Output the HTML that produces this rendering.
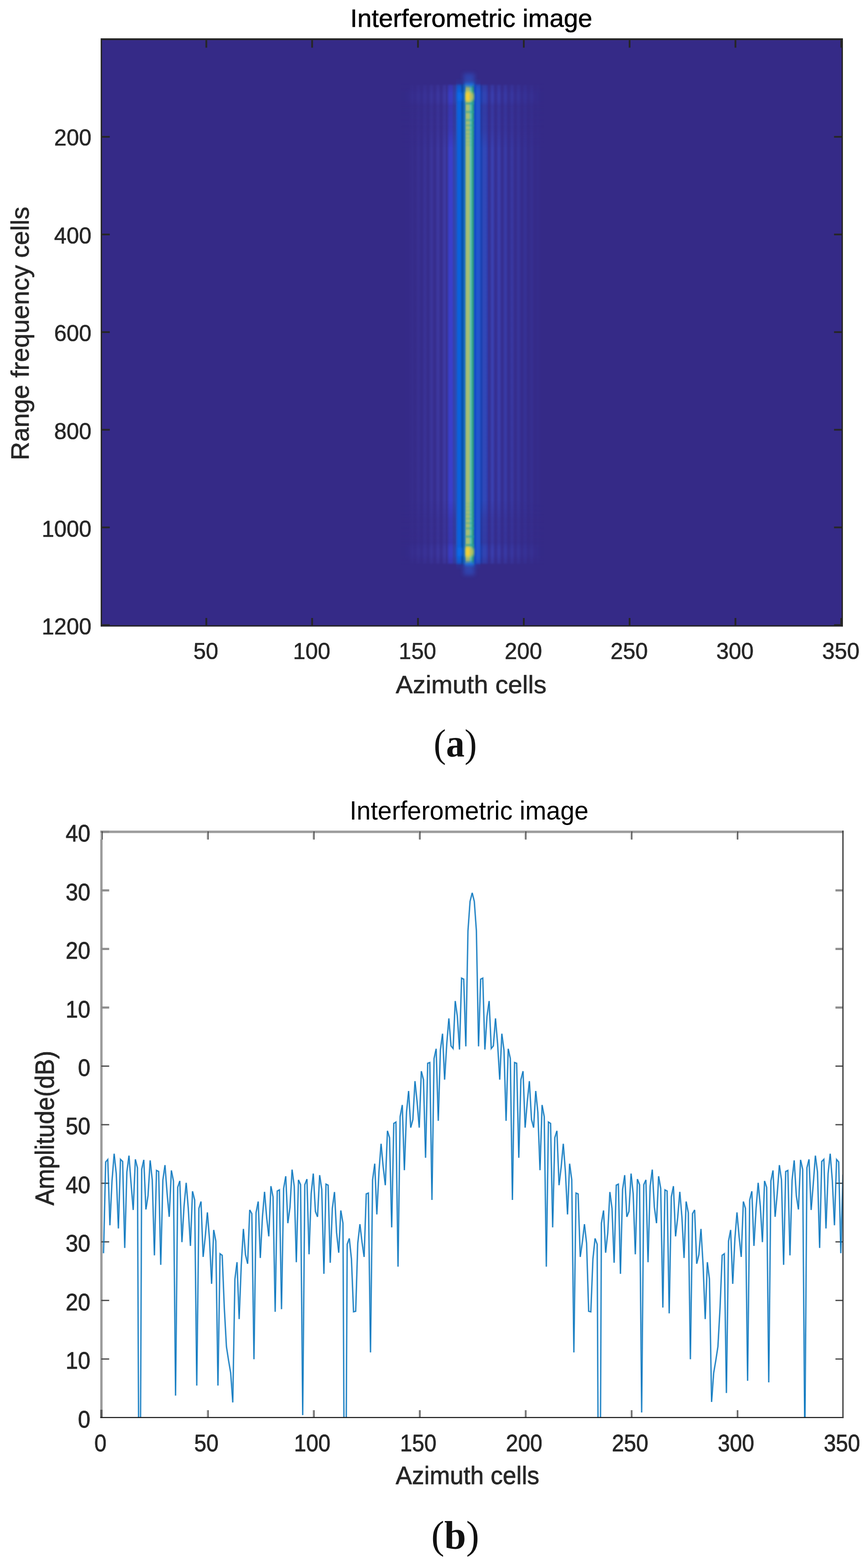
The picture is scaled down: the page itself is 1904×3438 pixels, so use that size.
<!DOCTYPE html>
<html lang="en"><head><meta charset="utf-8"><title>Interferometric image</title>
<style>
html,body{margin:0;padding:0;background:#fff;}
body{width:1904px;height:3438px;overflow:hidden;}
svg{display:block;}
text{font-family:"Liberation Sans",sans-serif;fill:#262626;stroke:#262626;stroke-width:0.7px;stroke-linejoin:round;}
.ttl{font-size:56.2px;fill:#000;stroke:#000;}
.lbl{font-size:56.2px;}
.tk{font-size:49.1px;}
.b text{stroke-width:0.9px;}
.b text.ttl{stroke-width:0;}
.cap{font-family:"Liberation Serif",serif;fill:#111;stroke:none;}
</style></head><body>
<svg width="1904" height="3438" viewBox="0 0 1904 3438">
<defs>
<linearGradient id="prof" gradientUnits="userSpaceOnUse" x1="880" y1="0" x2="1194" y2="0">
<stop offset="0.0000" stop-color="#352a87"/>
<stop offset="0.0076" stop-color="#352a87"/>
<stop offset="0.0153" stop-color="#352a87"/>
<stop offset="0.0229" stop-color="#352a87"/>
<stop offset="0.0306" stop-color="#352a88"/>
<stop offset="0.0382" stop-color="#352a88"/>
<stop offset="0.0459" stop-color="#352a88"/>
<stop offset="0.0535" stop-color="#352a88"/>
<stop offset="0.0611" stop-color="#362b89"/>
<stop offset="0.0688" stop-color="#362c8b"/>
<stop offset="0.0764" stop-color="#372d8c"/>
<stop offset="0.0841" stop-color="#362c8b"/>
<stop offset="0.0917" stop-color="#362b89"/>
<stop offset="0.0994" stop-color="#362b89"/>
<stop offset="0.1070" stop-color="#372d8c"/>
<stop offset="0.1146" stop-color="#382f8f"/>
<stop offset="0.1223" stop-color="#382f91"/>
<stop offset="0.1299" stop-color="#372e8e"/>
<stop offset="0.1376" stop-color="#362c8b"/>
<stop offset="0.1452" stop-color="#362c8a"/>
<stop offset="0.1529" stop-color="#372e8f"/>
<stop offset="0.1605" stop-color="#393194"/>
<stop offset="0.1682" stop-color="#393295"/>
<stop offset="0.1758" stop-color="#383091"/>
<stop offset="0.1834" stop-color="#372d8c"/>
<stop offset="0.1911" stop-color="#362d8c"/>
<stop offset="0.1987" stop-color="#383091"/>
<stop offset="0.2064" stop-color="#3a3498"/>
<stop offset="0.2140" stop-color="#3b349a"/>
<stop offset="0.2217" stop-color="#393194"/>
<stop offset="0.2293" stop-color="#372e8d"/>
<stop offset="0.2369" stop-color="#372d8d"/>
<stop offset="0.2446" stop-color="#393194"/>
<stop offset="0.2522" stop-color="#3c369d"/>
<stop offset="0.2599" stop-color="#3c379e"/>
<stop offset="0.2675" stop-color="#3a3397"/>
<stop offset="0.2752" stop-color="#372e8f"/>
<stop offset="0.2828" stop-color="#372e8e"/>
<stop offset="0.2904" stop-color="#3a3397"/>
<stop offset="0.2981" stop-color="#3d39a1"/>
<stop offset="0.3057" stop-color="#3d3aa3"/>
<stop offset="0.3134" stop-color="#3b359a"/>
<stop offset="0.3210" stop-color="#382f90"/>
<stop offset="0.3236" stop-color="#3638a6"/>
<stop offset="0.3384" stop-color="#3a3ecb"/>
<stop offset="0.3532" stop-color="#3a3ecb"/>
<stop offset="0.3679" stop-color="#3442a8"/>
<stop offset="0.3827" stop-color="#2a4cb4"/>
<stop offset="0.3975" stop-color="#0a62dc"/>
<stop offset="0.4123" stop-color="#0a62dc"/>
<stop offset="0.4271" stop-color="#0650a8"/>
<stop offset="0.4419" stop-color="#1a6cc0"/>
<stop offset="0.4567" stop-color="#a3bd76"/>
<stop offset="0.4715" stop-color="#a8bf72"/>
<stop offset="0.4862" stop-color="#5cc0b0"/>
<stop offset="0.5010" stop-color="#2f9a80"/>
<stop offset="0.5158" stop-color="#1048c8"/>
<stop offset="0.5306" stop-color="#2255ce"/>
<stop offset="0.5454" stop-color="#2454cc"/>
<stop offset="0.5602" stop-color="#1a40b0"/>
<stop offset="0.5750" stop-color="#3048b8"/>
<stop offset="0.5897" stop-color="#3048b8"/>
<stop offset="0.6045" stop-color="#3038a8"/>
<stop offset="0.6083" stop-color="#363296"/>
<stop offset="0.6159" stop-color="#363092"/>
<stop offset="0.6236" stop-color="#37369d"/>
<stop offset="0.6312" stop-color="#393eac"/>
<stop offset="0.6389" stop-color="#3940b0"/>
<stop offset="0.6465" stop-color="#3839a4"/>
<stop offset="0.6541" stop-color="#363195"/>
<stop offset="0.6618" stop-color="#362f91"/>
<stop offset="0.6694" stop-color="#37349b"/>
<stop offset="0.6771" stop-color="#383ba8"/>
<stop offset="0.6847" stop-color="#393dab"/>
<stop offset="0.6924" stop-color="#3837a0"/>
<stop offset="0.7000" stop-color="#363093"/>
<stop offset="0.7076" stop-color="#362e8f"/>
<stop offset="0.7153" stop-color="#373398"/>
<stop offset="0.7229" stop-color="#3839a3"/>
<stop offset="0.7306" stop-color="#383aa5"/>
<stop offset="0.7382" stop-color="#37359c"/>
<stop offset="0.7459" stop-color="#362f91"/>
<stop offset="0.7535" stop-color="#362e8e"/>
<stop offset="0.7611" stop-color="#363195"/>
<stop offset="0.7688" stop-color="#37369e"/>
<stop offset="0.7764" stop-color="#3837a0"/>
<stop offset="0.7841" stop-color="#373398"/>
<stop offset="0.7917" stop-color="#362e8f"/>
<stop offset="0.7994" stop-color="#362d8d"/>
<stop offset="0.8070" stop-color="#363092"/>
<stop offset="0.8146" stop-color="#373499"/>
<stop offset="0.8223" stop-color="#37349a"/>
<stop offset="0.8299" stop-color="#363194"/>
<stop offset="0.8376" stop-color="#362d8d"/>
<stop offset="0.8452" stop-color="#352c8b"/>
<stop offset="0.8529" stop-color="#362e8f"/>
<stop offset="0.8605" stop-color="#363194"/>
<stop offset="0.8682" stop-color="#363195"/>
<stop offset="0.8758" stop-color="#362f91"/>
<stop offset="0.8834" stop-color="#352c8b"/>
<stop offset="0.8911" stop-color="#352c8a"/>
<stop offset="0.8987" stop-color="#362d8c"/>
<stop offset="0.9064" stop-color="#362f90"/>
<stop offset="0.9140" stop-color="#362f90"/>
<stop offset="0.9217" stop-color="#362d8d"/>
<stop offset="0.9293" stop-color="#352b89"/>
<stop offset="0.9369" stop-color="#352b89"/>
<stop offset="0.9446" stop-color="#352b8a"/>
<stop offset="0.9522" stop-color="#352c8b"/>
<stop offset="0.9599" stop-color="#352c8a"/>
<stop offset="0.9675" stop-color="#352b89"/>
<stop offset="0.9752" stop-color="#352a88"/>
<stop offset="0.9828" stop-color="#352a87"/>
<stop offset="0.9904" stop-color="#352a87"/>
<stop offset="1.0000" stop-color="#352a87"/>
</linearGradient>
<linearGradient id="vfade" gradientUnits="userSpaceOnUse" x1="0" y1="170" x2="0" y2="1252">
<stop offset="0.0000" stop-color="#fff" stop-opacity="0"/>
<stop offset="0.0111" stop-color="#fff" stop-opacity="0.12"/>
<stop offset="0.0203" stop-color="#fff" stop-opacity="0.6"/>
<stop offset="0.0296" stop-color="#fff" stop-opacity="1"/>
<stop offset="0.9704" stop-color="#fff" stop-opacity="1"/>
<stop offset="0.9797" stop-color="#fff" stop-opacity="0.6"/>
<stop offset="0.9889" stop-color="#fff" stop-opacity="0.12"/>
<stop offset="1.0000" stop-color="#fff" stop-opacity="0"/>
</linearGradient>
<mask id="vm" maskUnits="userSpaceOnUse" x="860" y="160" width="360" height="1110"><rect x="860" y="160" width="360" height="1110" fill="url(#vfade)"/></mask>
<linearGradient id="vofade" gradientUnits="userSpaceOnUse" x1="0" y1="170" x2="0" y2="1252">
<stop offset="0.0000" stop-color="#fff" stop-opacity="0"/>
<stop offset="0.0120" stop-color="#fff" stop-opacity="0"/>
<stop offset="0.0176" stop-color="#fff" stop-opacity="0.6"/>
<stop offset="0.0305" stop-color="#fff" stop-opacity="0.8"/>
<stop offset="0.0481" stop-color="#fff" stop-opacity="0.8"/>
<stop offset="0.0582" stop-color="#fff" stop-opacity="0.58"/>
<stop offset="0.1063" stop-color="#fff" stop-opacity="0.66"/>
<stop offset="0.1433" stop-color="#fff" stop-opacity="1"/>
<stop offset="0.8567" stop-color="#fff" stop-opacity="1"/>
<stop offset="0.8937" stop-color="#fff" stop-opacity="0.66"/>
<stop offset="0.9418" stop-color="#fff" stop-opacity="0.58"/>
<stop offset="0.9519" stop-color="#fff" stop-opacity="0.8"/>
<stop offset="0.9695" stop-color="#fff" stop-opacity="0.8"/>
<stop offset="0.9824" stop-color="#fff" stop-opacity="0.6"/>
<stop offset="0.9880" stop-color="#fff" stop-opacity="0"/>
<stop offset="1.0000" stop-color="#fff" stop-opacity="0"/>
</linearGradient>
<mask id="vo" maskUnits="userSpaceOnUse" x="860" y="160" width="360" height="1110"><rect x="860" y="160" width="360" height="1110" fill="url(#vofade)"/></mask>
<filter id="b2" x="-50%" y="-50%" width="200%" height="200%"><feGaussianBlur stdDeviation="1.6"/></filter>
<filter id="b3" x="-50%" y="-50%" width="200%" height="200%"><feGaussianBlur stdDeviation="3"/></filter>
<filter id="b6" x="-50%" y="-50%" width="200%" height="200%"><feGaussianBlur stdDeviation="5"/></filter>
<filter id="lb" filterUnits="userSpaceOnUse" x="200" y="1800" width="1680" height="1340"><feGaussianBlur stdDeviation="0.55"/></filter>
<clipPath id="cb"><rect x="222" y="1824" width="1628" height="1284"/></clipPath>
</defs>
<rect x="0" y="0" width="1904" height="3438" fill="#ffffff"/>
<g id="plot-a">
<rect x="221" y="84" width="1628" height="1289.6" fill="#352a87"/>
<rect x="895" y="201" width="285" height="22" fill="#3d42b8" opacity="0.4" filter="url(#b6)"/>
<rect x="895" y="1199" width="285" height="22" fill="#3d42b8" opacity="0.4" filter="url(#b6)"/>
<rect x="880" y="160" width="314" height="1110" fill="url(#prof)" mask="url(#vo)"/>
<rect x="1000" y="160" width="54" height="1110" fill="url(#prof)" mask="url(#vm)"/>
<rect x="1021" y="223.9" width="19" height="5.2" fill="#1f9aa6" opacity="0.6" filter="url(#b2)"/>
<rect x="1021" y="242.9" width="19" height="5.2" fill="#1f9aa6" opacity="0.45" filter="url(#b2)"/>
<rect x="1021" y="260.9" width="19" height="5.2" fill="#1f9aa6" opacity="0.36" filter="url(#b2)"/>
<rect x="1021" y="272.4" width="19" height="5.2" fill="#1f9aa6" opacity="0.28" filter="url(#b2)"/>
<rect x="1021" y="282.4" width="19" height="5.2" fill="#1f9aa6" opacity="0.22" filter="url(#b2)"/>
<rect x="1021" y="291.4" width="19" height="5.2" fill="#1f9aa6" opacity="0.17" filter="url(#b2)"/>
<rect x="1021" y="299.9" width="19" height="5.2" fill="#1f9aa6" opacity="0.13" filter="url(#b2)"/>
<rect x="1021" y="307.9" width="19" height="5.2" fill="#1f9aa6" opacity="0.1" filter="url(#b2)"/>
<rect x="1021" y="315.4" width="19" height="5.2" fill="#1f9aa6" opacity="0.08" filter="url(#b2)"/>
<rect x="1019" y="181.0" width="21" height="8" fill="#0a78f0" opacity="0.9" filter="url(#b3)"/>
<rect x="1017" y="161.0" width="24" height="22" fill="#2a55c8" opacity="0.6" filter="url(#b6)"/>
<rect x="1021.5" y="202" width="11" height="20" fill="#fbd22e" filter="url(#b3)"/>
<rect x="1031" y="204" width="8" height="16" fill="#c9c15a" opacity="0.9" filter="url(#b3)"/>
<rect x="1004" y="203" width="11" height="18" fill="#0a70f0" opacity="0.7" filter="url(#b3)"/>
<rect x="1021" y="1192.9" width="19" height="5.2" fill="#1f9aa6" opacity="0.6" filter="url(#b2)"/>
<rect x="1021" y="1173.9" width="19" height="5.2" fill="#1f9aa6" opacity="0.45" filter="url(#b2)"/>
<rect x="1021" y="1155.9" width="19" height="5.2" fill="#1f9aa6" opacity="0.36" filter="url(#b2)"/>
<rect x="1021" y="1144.4" width="19" height="5.2" fill="#1f9aa6" opacity="0.28" filter="url(#b2)"/>
<rect x="1021" y="1134.4" width="19" height="5.2" fill="#1f9aa6" opacity="0.22" filter="url(#b2)"/>
<rect x="1021" y="1125.4" width="19" height="5.2" fill="#1f9aa6" opacity="0.17" filter="url(#b2)"/>
<rect x="1021" y="1116.9" width="19" height="5.2" fill="#1f9aa6" opacity="0.13" filter="url(#b2)"/>
<rect x="1021" y="1108.9" width="19" height="5.2" fill="#1f9aa6" opacity="0.1" filter="url(#b2)"/>
<rect x="1021" y="1101.4" width="19" height="5.2" fill="#1f9aa6" opacity="0.08" filter="url(#b2)"/>
<rect x="1019" y="1233.0" width="21" height="8" fill="#0a78f0" opacity="0.9" filter="url(#b3)"/>
<rect x="1017" y="1239.0" width="24" height="22" fill="#2a55c8" opacity="0.6" filter="url(#b6)"/>
<rect x="1021.5" y="1200" width="11" height="20" fill="#fbd22e" filter="url(#b3)"/>
<rect x="1031" y="1202" width="8" height="16" fill="#c9c15a" opacity="0.9" filter="url(#b3)"/>
<rect x="1004" y="1201" width="11" height="18" fill="#0a70f0" opacity="0.7" filter="url(#b3)"/>
<rect x="221" y="84" width="1628" height="4" fill="#262626"/>
<rect x="221" y="1370.8" width="1628" height="2.9" fill="#262626"/>
<rect x="220.8" y="84" width="3.1" height="1289.6" fill="#262626"/>
<rect x="1846" y="84" width="3" height="1289.6" fill="#262626"/>
<rect x="450.6" y="86" width="3.9" height="18.5" fill="#262626"/>
<rect x="450.6" y="1355" width="3.9" height="17" fill="#262626"/>
<rect x="682.7" y="86" width="3.9" height="18.5" fill="#262626"/>
<rect x="682.7" y="1355" width="3.9" height="17" fill="#262626"/>
<rect x="914.9" y="86" width="3.9" height="18.5" fill="#262626"/>
<rect x="914.9" y="1355" width="3.9" height="17" fill="#262626"/>
<rect x="1147.0" y="86" width="3.9" height="18.5" fill="#262626"/>
<rect x="1147.0" y="1355" width="3.9" height="17" fill="#262626"/>
<rect x="1379.1" y="86" width="3.9" height="18.5" fill="#262626"/>
<rect x="1379.1" y="1355" width="3.9" height="17" fill="#262626"/>
<rect x="1611.3" y="86" width="3.9" height="18.5" fill="#262626"/>
<rect x="1611.3" y="1355" width="3.9" height="17" fill="#262626"/>
<rect x="1843.4" y="86" width="3.9" height="18.5" fill="#262626"/>
<rect x="1843.4" y="1355" width="3.9" height="17" fill="#262626"/>
<rect x="222" y="298.1" width="18.8" height="3.8" fill="#262626"/>
<rect x="1829.5" y="298.1" width="18.5" height="3.8" fill="#262626"/>
<rect x="222" y="512.2" width="18.8" height="3.8" fill="#262626"/>
<rect x="1829.5" y="512.2" width="18.5" height="3.8" fill="#262626"/>
<rect x="222" y="726.3" width="18.8" height="3.8" fill="#262626"/>
<rect x="1829.5" y="726.3" width="18.5" height="3.8" fill="#262626"/>
<rect x="222" y="940.4" width="18.8" height="3.8" fill="#262626"/>
<rect x="1829.5" y="940.4" width="18.5" height="3.8" fill="#262626"/>
<rect x="222" y="1154.5" width="18.8" height="3.8" fill="#262626"/>
<rect x="1829.5" y="1154.5" width="18.5" height="3.8" fill="#262626"/>
<rect x="222" y="1368.6" width="18.8" height="3.8" fill="#262626"/>
<rect x="1829.5" y="1368.6" width="18.5" height="3.8" fill="#262626"/>
<text class="tk" x="200.6" y="319.4" text-anchor="end">200</text>
<text class="tk" x="200.6" y="533.8" text-anchor="end">400</text>
<text class="tk" x="200.6" y="748.2" text-anchor="end">600</text>
<text class="tk" x="200.6" y="962.6" text-anchor="end">800</text>
<text class="tk" x="200.6" y="1177.0" text-anchor="end">1000</text>
<text class="tk" x="200.6" y="1391.4" text-anchor="end">1200</text>
<text class="tk" x="451.5" y="1444.5" text-anchor="middle">50</text>
<text class="tk" x="683.7" y="1444.5" text-anchor="middle">100</text>
<text class="tk" x="915.8" y="1444.5" text-anchor="middle">150</text>
<text class="tk" x="1148.0" y="1444.5" text-anchor="middle">200</text>
<text class="tk" x="1380.1" y="1444.5" text-anchor="middle">250</text>
<text class="tk" x="1612.2" y="1444.5" text-anchor="middle">300</text>
<text class="tk" x="1844.4" y="1444.5" text-anchor="middle">350</text>
<text class="ttl" x="1033.8" y="59" text-anchor="middle">Interferometric image</text>
<text class="lbl" x="1033.4" y="1520.3" text-anchor="middle">Azimuth cells</text>
<text class="lbl" transform="translate(63,731.2) rotate(-90)" text-anchor="middle">Range frequency cells</text>
</g>
<text class="cap" text-anchor="middle" font-size="86" transform="translate(998.7,1659) scale(0.945,1)"><tspan>(</tspan><tspan font-weight="bold">a</tspan><tspan>)</tspan></text>
<g id="plot-b" class="b">
<rect x="220" y="1821.2" width="1630.4" height="5.3" fill="#9c9c9c"/>
<rect x="219.9" y="1821.2" width="5.1" height="1288" fill="#9c9c9c"/>
<rect x="222" y="1821.5" width="17.5" height="4.7" fill="#8e8e8e"/>
<rect x="222" y="1949.9" width="17.5" height="4.7" fill="#8e8e8e"/>
<rect x="1832.6" y="1949.9" width="16" height="4.7" fill="#8e8e8e"/>
<rect x="222" y="2078.3" width="17.5" height="4.7" fill="#8e8e8e"/>
<rect x="1832.6" y="2078.3" width="16" height="4.7" fill="#8e8e8e"/>
<rect x="222" y="2206.8" width="17.5" height="4.7" fill="#8e8e8e"/>
<rect x="1832.6" y="2206.8" width="16" height="4.7" fill="#8e8e8e"/>
<rect x="222" y="2336.2" width="17.5" height="2.8" fill="#4c4c4c"/>
<rect x="1832.6" y="2336.2" width="16" height="2.8" fill="#4c4c4c"/>
<rect x="222" y="2464.6" width="17.5" height="2.8" fill="#4c4c4c"/>
<rect x="1832.6" y="2464.6" width="16" height="2.8" fill="#4c4c4c"/>
<rect x="222" y="2593.0" width="17.5" height="2.8" fill="#4c4c4c"/>
<rect x="1832.6" y="2593.0" width="16" height="2.8" fill="#4c4c4c"/>
<rect x="222" y="2721.5" width="17.5" height="2.8" fill="#4c4c4c"/>
<rect x="1832.6" y="2721.5" width="16" height="2.8" fill="#4c4c4c"/>
<rect x="222" y="2849.9" width="17.5" height="2.8" fill="#4c4c4c"/>
<rect x="1832.6" y="2849.9" width="16" height="2.8" fill="#4c4c4c"/>
<rect x="222" y="2978.4" width="17.5" height="2.8" fill="#4c4c4c"/>
<rect x="1832.6" y="2978.4" width="16" height="2.8" fill="#4c4c4c"/>
<rect x="220.4" y="1826" width="2.6" height="14.6" fill="#cfcfcf"/>
<rect x="222.9" y="1823" width="2.4" height="17.8" fill="#484848"/>
<rect x="219.9" y="3091" width="5.1" height="17" fill="#5a5a5a"/>
<rect x="452.8" y="1826" width="2.6" height="14.6" fill="#cfcfcf"/>
<rect x="455.3" y="1823" width="2.4" height="17.8" fill="#484848"/>
<rect x="452.8" y="3092" width="2.6" height="15" fill="#cfcfcf"/>
<rect x="455.3" y="3092" width="2.4" height="15" fill="#4a4a4a"/>
<rect x="685.1" y="1826" width="2.6" height="14.6" fill="#cfcfcf"/>
<rect x="687.6" y="1823" width="2.4" height="17.8" fill="#484848"/>
<rect x="685.1" y="3092" width="2.6" height="15" fill="#cfcfcf"/>
<rect x="687.6" y="3092" width="2.4" height="15" fill="#4a4a4a"/>
<rect x="917.5" y="1826" width="2.6" height="14.6" fill="#cfcfcf"/>
<rect x="920.0" y="1823" width="2.4" height="17.8" fill="#484848"/>
<rect x="917.5" y="3092" width="2.6" height="15" fill="#cfcfcf"/>
<rect x="920.0" y="3092" width="2.4" height="15" fill="#4a4a4a"/>
<rect x="1149.8" y="1826" width="2.6" height="14.6" fill="#cfcfcf"/>
<rect x="1152.3" y="1823" width="2.4" height="17.8" fill="#484848"/>
<rect x="1149.8" y="3092" width="2.6" height="15" fill="#cfcfcf"/>
<rect x="1152.3" y="3092" width="2.4" height="15" fill="#4a4a4a"/>
<rect x="1382.2" y="1826" width="2.6" height="14.6" fill="#cfcfcf"/>
<rect x="1384.7" y="1823" width="2.4" height="17.8" fill="#484848"/>
<rect x="1382.2" y="3092" width="2.6" height="15" fill="#cfcfcf"/>
<rect x="1384.7" y="3092" width="2.4" height="15" fill="#4a4a4a"/>
<rect x="1614.5" y="1826" width="2.6" height="14.6" fill="#cfcfcf"/>
<rect x="1617.0" y="1823" width="2.4" height="17.8" fill="#484848"/>
<rect x="1614.5" y="3092" width="2.6" height="15" fill="#cfcfcf"/>
<rect x="1617.0" y="3092" width="2.4" height="15" fill="#4a4a4a"/>
<g clip-path="url(#cb)"><g fill="none" stroke-linejoin="miter" stroke-miterlimit="3" filter="url(#lb)">
<polyline points="227.1,2747.8 231.8,2547.8 236.4,2542.4 241.1,2686.5 245.7,2589.4 250.4,2529.7 255.0,2573.2 259.7,2693.5 264.3,2542.0 269.0,2546.6 273.6,2736.2 278.3,2569.7 282.9,2533.9 287.6,2596.3 292.2,2653.0 296.9,2542.0 301.5,2560.5 306.1,3600.0 310.8,2563.9 315.4,2543.1 320.1,2651.8 324.7,2621.8 329.4,2544.3 334.0,2587.1 338.7,2752.4 343.3,2566.3 348.0,2568.6 352.6,2773.2 357.3,2587.1 361.9,2554.7 366.6,2617.1 371.2,2668.0 375.9,2566.3 380.5,2589.4 385.1,3060.0 389.8,2603.3 394.4,2589.4 399.1,2723.5 403.7,2644.9 408.4,2593.5 413.0,2649.5 417.7,2731.6 422.3,2612.0 427.0,2631.0 431.6,3038.0 436.3,2649.5 440.9,2634.5 445.6,2755.9 450.2,2712.0 454.9,2658.3 459.5,2716.6 464.2,2814.9 468.8,2696.9 473.4,2721.2 478.1,3038.0 482.7,2749.0 487.4,2752.4 492.0,2866.9 496.7,2952.5 501.3,2982.5 506.0,3010.3 510.6,3075.0 515.3,2804.5 519.9,2767.5 524.6,2892.3 529.2,2774.4 533.9,2694.6 538.5,2751.3 543.2,2770.9 547.8,2653.0 552.4,2661.1 557.1,2980.2 561.7,2658.8 566.4,2634.5 571.0,2758.2 575.7,2668.0 580.3,2613.2 585.0,2670.3 589.6,2710.8 594.3,2600.9 598.9,2624.1 603.6,2876.2 608.2,2611.4 612.9,2609.0 617.5,2870.4 622.2,2605.6 626.8,2579.0 631.4,2681.9 636.1,2647.2 640.7,2564.6 645.4,2600.9 650.0,2767.5 654.7,2587.1 659.3,2597.5 664.0,3102.8 668.6,2597.5 673.3,2585.4 677.9,2750.1 682.6,2617.1 687.2,2573.2 691.9,2656.4 696.5,2668.0 701.2,2576.7 705.8,2607.9 710.5,2792.9 715.1,2596.3 719.7,2598.6 724.4,2768.6 729.0,2649.5 733.7,2613.7 738.3,2702.7 743.0,2746.6 747.6,2654.1 752.3,2681.9 756.9,3600.0 761.6,2728.1 766.2,2715.4 770.9,2760.5 775.5,2876.2 780.2,2875.0 784.8,2725.8 789.5,2684.2 794.1,2723.5 798.7,2755.9 803.4,2617.8 808.0,2615.9 812.7,2965.2 817.3,2587.0 822.0,2551.6 826.6,2662.7 831.3,2568.5 835.9,2507.9 840.6,2559.3 845.2,2598.6 849.9,2479.5 854.5,2494.5 859.2,2691.1 863.8,2463.3 868.5,2460.3 873.1,2777.2 877.7,2448.3 882.4,2422.8 887.0,2565.8 891.7,2438.9 896.3,2392.1 901.0,2472.4 905.6,2455.0 910.3,2370.6 914.9,2415.7 919.6,2472.4 924.2,2348.7 928.9,2367.2 933.5,2538.5 938.2,2331.3 942.8,2329.7 947.5,2631.0 952.1,2320.9 956.7,2299.6 961.4,2457.4 966.0,2302.4 970.7,2266.6 975.3,2367.2 980.0,2288.5 984.6,2233.0 989.3,2293.2 993.9,2298.9 998.6,2194.9 1003.2,2228.4 1007.9,2301.2 1012.5,2144.7 1017.2,2147.0 1021.8,2294.3 1026.5,2041.1 1031.1,1976.3 1035.8,1957.8 1040.4,1976.3 1045.0,2041.1 1049.7,2294.3 1054.3,2147.0 1059.0,2144.7 1063.6,2301.2 1068.3,2228.4 1072.9,2194.9 1077.6,2298.9 1082.2,2293.2 1086.9,2233.0 1091.5,2288.5 1096.2,2367.2 1100.8,2266.6 1105.5,2302.4 1110.1,2457.4 1114.8,2299.6 1119.4,2320.9 1124.0,2631.0 1128.7,2329.7 1133.3,2331.3 1138.0,2538.5 1142.6,2367.2 1147.3,2348.7 1151.9,2472.4 1156.6,2415.7 1161.2,2370.6 1165.9,2455.0 1170.5,2472.4 1175.2,2392.1 1179.8,2438.9 1184.5,2565.8 1189.1,2422.8 1193.8,2448.3 1198.4,2777.2 1203.0,2460.3 1207.7,2463.3 1212.3,2691.1 1217.0,2494.5 1221.6,2479.5 1226.3,2598.6 1230.9,2559.3 1235.6,2507.9 1240.2,2568.5 1244.9,2662.7 1249.5,2551.6 1254.2,2587.0 1258.8,2965.2 1263.5,2615.9 1268.1,2617.8 1272.8,2755.9 1277.4,2723.5 1282.0,2684.2 1286.7,2725.8 1291.3,2875.0 1296.0,2876.2 1300.6,2760.5 1305.3,2715.4 1309.9,2728.1 1314.6,3699.5 1319.2,2681.9 1323.9,2654.1 1328.5,2746.6 1333.2,2702.7 1337.8,2613.7 1342.5,2649.5 1347.1,2768.6 1351.8,2598.6 1356.4,2596.3 1361.0,2792.9 1365.7,2607.9 1370.3,2576.7 1375.0,2668.0 1379.6,2656.4 1384.3,2573.2 1388.9,2617.1 1393.6,2750.1 1398.2,2585.4 1402.9,2597.5 1407.5,3097.0 1412.2,2597.5 1416.8,2587.1 1421.5,2767.5 1426.1,2600.9 1430.8,2564.6 1435.4,2647.2 1440.1,2681.9 1444.7,2579.0 1449.3,2605.6 1454.0,2866.9 1458.6,2609.0 1463.3,2611.4 1467.9,2879.6 1472.6,2624.1 1477.2,2600.9 1481.9,2710.8 1486.5,2670.3 1491.2,2613.2 1495.8,2668.0 1500.5,2758.2 1505.1,2634.5 1509.8,2658.8 1514.4,2980.2 1519.1,2661.1 1523.7,2653.0 1528.3,2770.9 1533.0,2751.3 1537.6,2694.6 1542.3,2774.4 1546.9,2892.3 1551.6,2767.5 1556.2,2804.5 1560.9,3073.9 1565.5,3010.3 1570.2,2982.5 1574.8,2952.5 1579.5,2866.9 1584.1,2752.4 1588.8,2749.0 1593.4,3054.2 1598.1,2721.2 1602.7,2696.9 1607.3,2814.9 1612.0,2716.6 1616.6,2658.3 1621.3,2712.0 1625.9,2755.9 1630.6,2634.5 1635.2,2649.5 1639.9,3027.6 1644.5,2631.0 1649.2,2612.0 1653.8,2731.6 1658.5,2649.5 1663.1,2593.5 1667.8,2644.9 1672.4,2723.5 1677.1,2589.4 1681.7,2603.3 1686.3,3031.1 1691.0,2589.4 1695.6,2566.3 1700.3,2668.0 1704.9,2617.1 1709.6,2554.7 1714.2,2587.1 1718.9,2773.2 1723.5,2568.6 1728.2,2566.3 1732.8,2752.4 1737.5,2587.1 1742.1,2544.3 1746.8,2621.8 1751.4,2651.8 1756.1,2543.1 1760.7,2563.9 1765.4,3160.6 1770.0,2560.5 1774.6,2542.0 1779.3,2653.0 1783.9,2596.3 1788.6,2533.9 1793.2,2569.7 1797.9,2736.2 1802.5,2546.6 1807.2,2542.0 1811.8,2693.5 1816.5,2573.2 1821.1,2529.7 1825.8,2589.4 1830.4,2686.5 1835.1,2542.4 1839.7,2547.8 1844.4,2747.8 1849.0,2575.5" stroke="#0072bd" stroke-opacity="0.5" stroke-width="3.6"/>
<polyline points="227.1,2747.8 231.8,2547.8 236.4,2542.4 241.1,2686.5 245.7,2589.4 250.4,2529.7 255.0,2573.2 259.7,2693.5 264.3,2542.0 269.0,2546.6 273.6,2736.2 278.3,2569.7 282.9,2533.9 287.6,2596.3 292.2,2653.0 296.9,2542.0 301.5,2560.5 306.1,3600.0 310.8,2563.9 315.4,2543.1 320.1,2651.8 324.7,2621.8 329.4,2544.3 334.0,2587.1 338.7,2752.4 343.3,2566.3 348.0,2568.6 352.6,2773.2 357.3,2587.1 361.9,2554.7 366.6,2617.1 371.2,2668.0 375.9,2566.3 380.5,2589.4 385.1,3060.0 389.8,2603.3 394.4,2589.4 399.1,2723.5 403.7,2644.9 408.4,2593.5 413.0,2649.5 417.7,2731.6 422.3,2612.0 427.0,2631.0 431.6,3038.0 436.3,2649.5 440.9,2634.5 445.6,2755.9 450.2,2712.0 454.9,2658.3 459.5,2716.6 464.2,2814.9 468.8,2696.9 473.4,2721.2 478.1,3038.0 482.7,2749.0 487.4,2752.4 492.0,2866.9 496.7,2952.5 501.3,2982.5 506.0,3010.3 510.6,3075.0 515.3,2804.5 519.9,2767.5 524.6,2892.3 529.2,2774.4 533.9,2694.6 538.5,2751.3 543.2,2770.9 547.8,2653.0 552.4,2661.1 557.1,2980.2 561.7,2658.8 566.4,2634.5 571.0,2758.2 575.7,2668.0 580.3,2613.2 585.0,2670.3 589.6,2710.8 594.3,2600.9 598.9,2624.1 603.6,2876.2 608.2,2611.4 612.9,2609.0 617.5,2870.4 622.2,2605.6 626.8,2579.0 631.4,2681.9 636.1,2647.2 640.7,2564.6 645.4,2600.9 650.0,2767.5 654.7,2587.1 659.3,2597.5 664.0,3102.8 668.6,2597.5 673.3,2585.4 677.9,2750.1 682.6,2617.1 687.2,2573.2 691.9,2656.4 696.5,2668.0 701.2,2576.7 705.8,2607.9 710.5,2792.9 715.1,2596.3 719.7,2598.6 724.4,2768.6 729.0,2649.5 733.7,2613.7 738.3,2702.7 743.0,2746.6 747.6,2654.1 752.3,2681.9 756.9,3600.0 761.6,2728.1 766.2,2715.4 770.9,2760.5 775.5,2876.2 780.2,2875.0 784.8,2725.8 789.5,2684.2 794.1,2723.5 798.7,2755.9 803.4,2617.8 808.0,2615.9 812.7,2965.2 817.3,2587.0 822.0,2551.6 826.6,2662.7 831.3,2568.5 835.9,2507.9 840.6,2559.3 845.2,2598.6 849.9,2479.5 854.5,2494.5 859.2,2691.1 863.8,2463.3 868.5,2460.3 873.1,2777.2 877.7,2448.3 882.4,2422.8 887.0,2565.8 891.7,2438.9 896.3,2392.1 901.0,2472.4 905.6,2455.0 910.3,2370.6 914.9,2415.7 919.6,2472.4 924.2,2348.7 928.9,2367.2 933.5,2538.5 938.2,2331.3 942.8,2329.7 947.5,2631.0 952.1,2320.9 956.7,2299.6 961.4,2457.4 966.0,2302.4 970.7,2266.6 975.3,2367.2 980.0,2288.5 984.6,2233.0 989.3,2293.2 993.9,2298.9 998.6,2194.9 1003.2,2228.4 1007.9,2301.2 1012.5,2144.7 1017.2,2147.0 1021.8,2294.3 1026.5,2041.1 1031.1,1976.3 1035.8,1957.8 1040.4,1976.3 1045.0,2041.1 1049.7,2294.3 1054.3,2147.0 1059.0,2144.7 1063.6,2301.2 1068.3,2228.4 1072.9,2194.9 1077.6,2298.9 1082.2,2293.2 1086.9,2233.0 1091.5,2288.5 1096.2,2367.2 1100.8,2266.6 1105.5,2302.4 1110.1,2457.4 1114.8,2299.6 1119.4,2320.9 1124.0,2631.0 1128.7,2329.7 1133.3,2331.3 1138.0,2538.5 1142.6,2367.2 1147.3,2348.7 1151.9,2472.4 1156.6,2415.7 1161.2,2370.6 1165.9,2455.0 1170.5,2472.4 1175.2,2392.1 1179.8,2438.9 1184.5,2565.8 1189.1,2422.8 1193.8,2448.3 1198.4,2777.2 1203.0,2460.3 1207.7,2463.3 1212.3,2691.1 1217.0,2494.5 1221.6,2479.5 1226.3,2598.6 1230.9,2559.3 1235.6,2507.9 1240.2,2568.5 1244.9,2662.7 1249.5,2551.6 1254.2,2587.0 1258.8,2965.2 1263.5,2615.9 1268.1,2617.8 1272.8,2755.9 1277.4,2723.5 1282.0,2684.2 1286.7,2725.8 1291.3,2875.0 1296.0,2876.2 1300.6,2760.5 1305.3,2715.4 1309.9,2728.1 1314.6,3699.5 1319.2,2681.9 1323.9,2654.1 1328.5,2746.6 1333.2,2702.7 1337.8,2613.7 1342.5,2649.5 1347.1,2768.6 1351.8,2598.6 1356.4,2596.3 1361.0,2792.9 1365.7,2607.9 1370.3,2576.7 1375.0,2668.0 1379.6,2656.4 1384.3,2573.2 1388.9,2617.1 1393.6,2750.1 1398.2,2585.4 1402.9,2597.5 1407.5,3097.0 1412.2,2597.5 1416.8,2587.1 1421.5,2767.5 1426.1,2600.9 1430.8,2564.6 1435.4,2647.2 1440.1,2681.9 1444.7,2579.0 1449.3,2605.6 1454.0,2866.9 1458.6,2609.0 1463.3,2611.4 1467.9,2879.6 1472.6,2624.1 1477.2,2600.9 1481.9,2710.8 1486.5,2670.3 1491.2,2613.2 1495.8,2668.0 1500.5,2758.2 1505.1,2634.5 1509.8,2658.8 1514.4,2980.2 1519.1,2661.1 1523.7,2653.0 1528.3,2770.9 1533.0,2751.3 1537.6,2694.6 1542.3,2774.4 1546.9,2892.3 1551.6,2767.5 1556.2,2804.5 1560.9,3073.9 1565.5,3010.3 1570.2,2982.5 1574.8,2952.5 1579.5,2866.9 1584.1,2752.4 1588.8,2749.0 1593.4,3054.2 1598.1,2721.2 1602.7,2696.9 1607.3,2814.9 1612.0,2716.6 1616.6,2658.3 1621.3,2712.0 1625.9,2755.9 1630.6,2634.5 1635.2,2649.5 1639.9,3027.6 1644.5,2631.0 1649.2,2612.0 1653.8,2731.6 1658.5,2649.5 1663.1,2593.5 1667.8,2644.9 1672.4,2723.5 1677.1,2589.4 1681.7,2603.3 1686.3,3031.1 1691.0,2589.4 1695.6,2566.3 1700.3,2668.0 1704.9,2617.1 1709.6,2554.7 1714.2,2587.1 1718.9,2773.2 1723.5,2568.6 1728.2,2566.3 1732.8,2752.4 1737.5,2587.1 1742.1,2544.3 1746.8,2621.8 1751.4,2651.8 1756.1,2543.1 1760.7,2563.9 1765.4,3160.6 1770.0,2560.5 1774.6,2542.0 1779.3,2653.0 1783.9,2596.3 1788.6,2533.9 1793.2,2569.7 1797.9,2736.2 1802.5,2546.6 1807.2,2542.0 1811.8,2693.5 1816.5,2573.2 1821.1,2529.7 1825.8,2589.4 1830.4,2686.5 1835.1,2542.4 1839.7,2547.8 1844.4,2747.8 1849.0,2575.5" stroke="#0072bd" stroke-opacity="0.95" stroke-width="1.6"/>
</g></g>
<rect x="219.9" y="3106.9" width="1630.5" height="2.3" fill="#151515"/>
<rect x="1847.7" y="1821.2" width="2.7" height="1288" fill="#333"/>
<text class="tk" text-anchor="end" style="font-size:52px" transform="translate(198.3,1845.2) scale(0.94,1)">40</text>
<text class="tk" text-anchor="end" style="font-size:52px" transform="translate(198.3,1973.6) scale(0.94,1)">30</text>
<text class="tk" text-anchor="end" style="font-size:52px" transform="translate(198.3,2102.1) scale(0.94,1)">20</text>
<text class="tk" text-anchor="end" style="font-size:52px" transform="translate(198.3,2230.5) scale(0.94,1)">10</text>
<text class="tk" text-anchor="end" style="font-size:52px" transform="translate(198.3,2359.0) scale(0.94,1)">0</text>
<text class="tk" text-anchor="end" style="font-size:52px" transform="translate(198.3,2487.4) scale(0.94,1)">50</text>
<text class="tk" text-anchor="end" style="font-size:52px" transform="translate(198.3,2615.8) scale(0.94,1)">40</text>
<text class="tk" text-anchor="end" style="font-size:52px" transform="translate(198.3,2744.3) scale(0.94,1)">30</text>
<text class="tk" text-anchor="end" style="font-size:52px" transform="translate(198.3,2872.7) scale(0.94,1)">20</text>
<text class="tk" text-anchor="end" style="font-size:52px" transform="translate(198.3,3001.2) scale(0.94,1)">10</text>
<text class="tk" text-anchor="end" style="font-size:52px" transform="translate(198.3,3129.6) scale(0.94,1)">0</text>
<text class="tk" text-anchor="middle" style="font-size:52px" transform="translate(220.3,3182.2) scale(0.92,1)">0</text>
<text class="tk" text-anchor="middle" style="font-size:52px" transform="translate(452.7,3182.2) scale(0.92,1)">50</text>
<text class="tk" text-anchor="middle" style="font-size:52px" transform="translate(685.0,3182.2) scale(0.92,1)">100</text>
<text class="tk" text-anchor="middle" style="font-size:52px" transform="translate(917.4,3182.2) scale(0.92,1)">150</text>
<text class="tk" text-anchor="middle" style="font-size:52px" transform="translate(1149.7,3182.2) scale(0.92,1)">200</text>
<text class="tk" text-anchor="middle" style="font-size:52px" transform="translate(1382.1,3182.2) scale(0.92,1)">250</text>
<text class="tk" text-anchor="middle" style="font-size:52px" transform="translate(1614.4,3182.2) scale(0.92,1)">300</text>
<text class="tk" text-anchor="middle" style="font-size:52px" transform="translate(1846.8,3182.2) scale(0.92,1)">350</text>
<text class="ttl" text-anchor="middle" style="font-size:57.3px" transform="translate(1028.9,1797.3) scale(0.968,1)">Interferometric image</text>
<text class="lbl" text-anchor="middle" style="font-size:56px" transform="translate(1025.6,3254.3) scale(0.955,1)">Azimuth cells</text>
<text class="lbl" text-anchor="middle" style="font-size:57px" transform="translate(118,2473.6) rotate(-90) scale(0.94,1)">Amplitude(dB)</text>
</g>
<text class="cap" x="998.5" y="3395.2" text-anchor="middle" font-size="86"><tspan>(</tspan><tspan font-weight="bold">b</tspan><tspan>)</tspan></text>
</svg>
</body></html>
